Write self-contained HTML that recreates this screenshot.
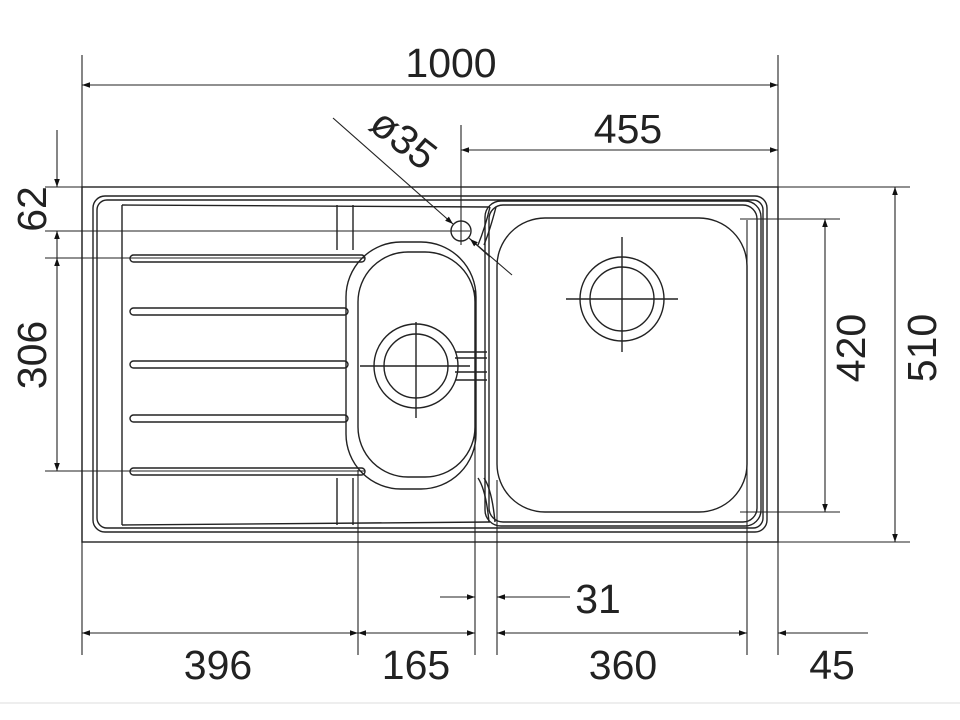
<!DOCTYPE html>
<html><head><style>body{margin:0;background:#fff}svg{display:block}text{font-family:"Liberation Sans",sans-serif;font-size:41px;fill:#222}</style></head><body>
<svg width="960" height="720" viewBox="0 0 960 720" xmlns="http://www.w3.org/2000/svg">
<defs><marker id="a" viewBox="0 0 10 10" refX="10" refY="5" markerWidth="16" markerHeight="8" orient="auto-start-reverse" markerUnits="userSpaceOnUse"><path d="M0,1.5L10,5L0,8.5Z" fill="#111"/></marker></defs>
<g stroke="#222" stroke-width="1.4" fill="none">
<rect x="82" y="187" width="696" height="355"/>
<rect x="93" y="196" width="674" height="336" rx="12"/>
<rect x="97" y="200" width="666" height="328" rx="10"/>
<line x1="122" y1="205" x2="122" y2="525"/>
<line x1="122" y1="205" x2="490" y2="207"/>
<line x1="122" y1="525" x2="490" y2="522"/>
<path d="M490,207 Q485,228 478,245"/><path d="M496,207 Q490,230 484,245"/>
<path d="M484,478 Q492,490 495,522"/><path d="M478,478 Q486,490 489,522"/>
<line x1="337" y1="205" x2="337" y2="250"/><line x1="353" y1="205" x2="353" y2="250"/>
<line x1="337" y1="478" x2="337" y2="525"/><line x1="353" y1="478" x2="353" y2="525"/>
<rect x="130" y="255" width="235" height="7" rx="3.5"/>
<rect x="130" y="308" width="218" height="7" rx="3.5"/>
<rect x="130" y="361" width="218" height="7" rx="3.5"/>
<rect x="130" y="415" width="218" height="7" rx="3.5"/>
<rect x="130" y="468" width="235" height="7" rx="3.5"/>
<rect x="346" y="242" width="130" height="247" rx="55"/>
<rect x="358" y="252" width="117" height="225" rx="50"/>
<circle cx="416" cy="366" r="42"/><circle cx="416" cy="366" r="32"/>
<line x1="416" y1="322" x2="416" y2="418"/><line x1="360" y1="366" x2="470" y2="366"/>
<line x1="455" y1="352" x2="487" y2="352"/><line x1="455" y1="358" x2="487" y2="358"/>
<line x1="455" y1="372" x2="487" y2="372"/><line x1="455" y1="380" x2="487" y2="380"/>
<rect x="497" y="218" width="250" height="294" rx="48"/>
<rect x="489" y="205" width="268" height="317" rx="14"/>
<rect x="485" y="201" width="276" height="325" rx="16"/>
<circle cx="622" cy="299" r="42"/><circle cx="622" cy="299" r="32"/>
<line x1="622" y1="237" x2="622" y2="352"/><line x1="566" y1="299" x2="678" y2="299"/>
<circle cx="461" cy="231" r="10"/>
</g>
<g stroke="#222" stroke-width="1.1" fill="none">
<line x1="82" y1="55" x2="82" y2="655"/><line x1="778" y1="55" x2="778" y2="655"/>
<line x1="461" y1="125" x2="461" y2="245"/>
<line x1="45" y1="187" x2="82" y2="187"/><line x1="45" y1="231" x2="470" y2="231"/>
<line x1="45" y1="258" x2="365" y2="258"/><line x1="45" y1="471" x2="365" y2="471"/>
<line x1="740" y1="219" x2="840" y2="219"/><line x1="740" y1="512" x2="840" y2="512"/>
<line x1="778" y1="187" x2="910" y2="187"/><line x1="730" y1="542" x2="910" y2="542"/>
<line x1="358" y1="470" x2="358" y2="655"/><line x1="475" y1="290" x2="475" y2="655"/>
<line x1="497" y1="480" x2="497" y2="655"/><line x1="747" y1="220" x2="747" y2="655"/>
<line x1="82" y1="85" x2="778" y2="85" marker-start="url(#a)" marker-end="url(#a)"/>
<line x1="461" y1="150" x2="778" y2="150" marker-start="url(#a)" marker-end="url(#a)"/>
<line x1="333" y1="118" x2="453" y2="224" marker-end="url(#a)"/>
<line x1="469" y1="238" x2="512" y2="275"/>
<line x1="470" y1="239" x2="490" y2="257" marker-start="url(#a)"/>
<line x1="57" y1="130" x2="57" y2="187" marker-end="url(#a)"/>
<line x1="57" y1="231" x2="57" y2="258" marker-start="url(#a)" />
<line x1="57" y1="258" x2="57" y2="471" marker-start="url(#a)" marker-end="url(#a)"/>
<line x1="825" y1="219" x2="825" y2="512" marker-start="url(#a)" marker-end="url(#a)"/>
<line x1="895" y1="187" x2="895" y2="542" marker-start="url(#a)" marker-end="url(#a)"/>
<line x1="82" y1="633" x2="358" y2="633" marker-start="url(#a)" marker-end="url(#a)"/>
<line x1="358" y1="633" x2="475" y2="633" marker-start="url(#a)" marker-end="url(#a)"/>
<line x1="497" y1="633" x2="747" y2="633" marker-start="url(#a)" marker-end="url(#a)"/>
<line x1="778" y1="633" x2="868" y2="633" marker-start="url(#a)"/>
<line x1="440" y1="597" x2="475" y2="597" marker-end="url(#a)"/>
<line x1="497" y1="597" x2="570" y2="597" marker-start="url(#a)"/>
</g>
<line x1="0" y1="703" x2="960" y2="703" stroke="#ddd" stroke-width="1"/>
<text x="451" y="77" text-anchor="middle">1000</text>
<text x="628" y="143" text-anchor="middle">455</text>
<text x="0" y="0" text-anchor="middle" transform="translate(395,150) rotate(38)">ø35</text>
<text x="0" y="0" text-anchor="middle" transform="translate(46,209) rotate(-90)">62</text>
<text x="0" y="0" text-anchor="middle" transform="translate(46,355) rotate(-90)">306</text>
<text x="0" y="0" text-anchor="middle" transform="translate(865,348) rotate(-90)">420</text>
<text x="0" y="0" text-anchor="middle" transform="translate(936,348) rotate(-90)">510</text>
<text x="598" y="613" text-anchor="middle">31</text>
<text x="218" y="679" text-anchor="middle">396</text>
<text x="416" y="679" text-anchor="middle">165</text>
<text x="623" y="679" text-anchor="middle">360</text>
<text x="832" y="679" text-anchor="middle">45</text>
</svg>
</body></html>
